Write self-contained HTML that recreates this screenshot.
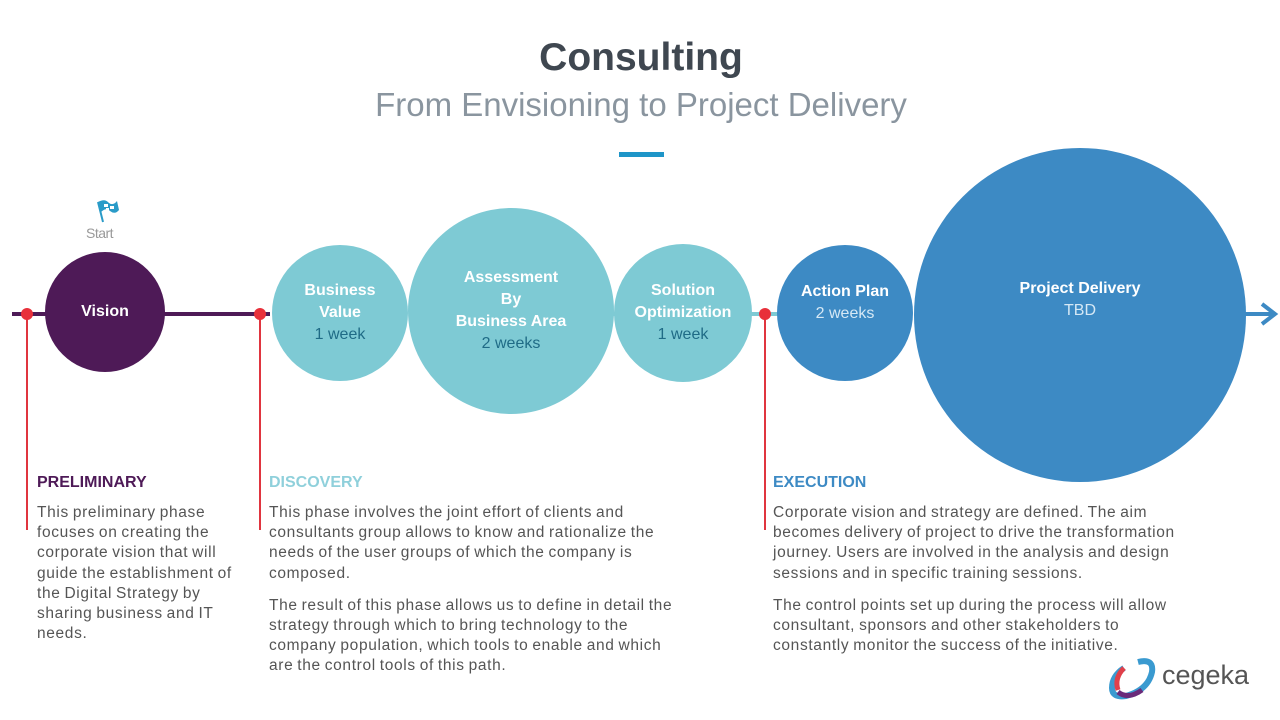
<!DOCTYPE html>
<html><head><meta charset="utf-8"><style>
body{margin:0;width:1280px;height:720px;background:#fff;position:relative;overflow:hidden;font-family:"Liberation Sans",sans-serif}
.a{position:absolute}
.c{position:absolute;border-radius:50%;display:flex;flex-direction:column;align-items:center;justify-content:center;text-align:center;color:#fff;font-weight:bold;font-size:16px;line-height:22px}
.c span{font-weight:normal}
.h{position:absolute;font-weight:bold;font-size:16px;top:474px}
.t{position:absolute;font-size:15.5px;line-height:20.2px;color:#555;top:503px;letter-spacing:0.65px;word-spacing:-1px;white-space:nowrap}
.t p{margin:0 0 12px}
</style></head><body>
<div class="a" style="left:0;top:36px;width:1282px;text-align:center;font-size:39px;font-weight:bold;color:#3f4750">Consulting</div>
<div class="a" style="left:0;top:86px;width:1282px;text-align:center;font-size:33px;color:#8a959f">From Envisioning to Project Delivery</div>
<div class="a" style="left:619px;top:152px;width:45px;height:5px;background:#1e95c8"></div>
<svg class="a" style="left:0;top:0" width="1280" height="720">
<line x1="12" y1="314" x2="270" y2="314" stroke="#4e1a57" stroke-width="4"/>
<line x1="600" y1="314" x2="800" y2="314" stroke="#7ecad4" stroke-width="4"/>
<line x1="1200" y1="314" x2="1274" y2="314" stroke="#3d8ac4" stroke-width="4"/>
<polyline points="1262,304 1275,314 1262,324" fill="none" stroke="#3d8ac4" stroke-width="4"/>
<g stroke="#e0353f" stroke-width="2"><line x1="27" y1="314" x2="27" y2="530"/><line x1="260" y1="314" x2="260" y2="530"/><line x1="765" y1="314" x2="765" y2="530"/></g>
<g fill="#e8303a"><circle cx="27" cy="314" r="6"/><circle cx="260" cy="314" r="6"/><circle cx="765" cy="314" r="6"/></g>
<g transform="translate(96,198)"><line x1="2" y1="4" x2="7" y2="24" stroke="#2a9bc8" stroke-width="2"/><path d="M2 4 Q9 0 13 5 Q17 8 21 3 L23 12 Q19 17 14 13 Q10 9 5 14Z" fill="#2a9bc8"/><path d="M8 6h4v3h-4zM14 8h4v3h-4zM10 10h3v3h-3z" fill="#fff"/></g>
</svg>
<div class="a" style="left:86px;top:225px;font-size:14px;color:#999;letter-spacing:-0.5px">Start</div>
<div class="c" style="left:45px;top:252px;width:120px;height:120px;background:#4e1a57">Vision</div>
<div class="c" style="left:272px;top:245px;width:136px;height:136px;background:#7ecad4">Business<br>Value<span style="color:#1f6b86">1 week</span></div>
<div class="c" style="left:408px;top:208px;width:206px;height:206px;background:#7ecad4">Assessment<br>By<br>Business Area<span style="color:#1f6b86">2 weeks</span></div>
<div class="c" style="left:614px;top:244px;width:138px;height:138px;background:#7ecad4">Solution<br>Optimization<span style="color:#1f6b86">1 week</span></div>
<div class="c" style="left:777px;top:245px;width:136px;height:136px;background:#3d8ac4;padding-bottom:20px;box-sizing:border-box">Action Plan<span style="color:#d5e8f5">2 weeks</span></div>
<div class="c" style="left:914px;top:148px;width:332px;height:334px;background:#3d8ac4;padding-bottom:30px;box-sizing:border-box">Project Delivery<span style="color:#d5e8f5">TBD</span></div>
<div class="h" style="left:37px;color:#4e1a57">PRELIMINARY</div>
<div class="h" style="left:269px;color:#8fd0db">DISCOVERY</div>
<div class="h" style="left:773px;color:#3d8ac4">EXECUTION</div>
<div class="t" style="left:37px">This preliminary phase<br>focuses on creating the<br>corporate vision that will<br>guide the establishment of<br>the Digital Strategy by<br>sharing business and IT<br>needs.</div>
<div class="t" style="left:269px"><p>This phase involves the joint effort of clients and<br>consultants group allows to know and rationalize the<br>needs of the user groups of which the company is<br>composed.</p><p>The result of this phase allows us to define in detail the<br>strategy through which to bring technology to the<br>company population, which tools to enable and which<br>are the control tools of this path.</p></div>
<div class="t" style="left:773px"><p>Corporate vision and strategy are defined. The aim<br>becomes delivery of project to drive the transformation<br>journey. Users are involved in the analysis and design<br>sessions and in specific training sessions.</p><p>The control points set up during the process will allow<br>consultant, sponsors and other stakeholders to<br>constantly monitor the success of the initiative.</p></div>
<svg class="a" style="left:1108px;top:656px" width="50" height="46"><path d="M30 6 Q46 2 44 16 Q40 34 18 40 Q4 42 4 32 Q4 20 16 12" fill="none" stroke="#3a9ad0" stroke-width="6"/><path d="M16 12 Q6 22 10 34" fill="none" stroke="#e0404a" stroke-width="5"/><path d="M10 36 Q20 44 34 34" fill="none" stroke="#6a2a7a" stroke-width="5"/></svg>
<div class="a" style="left:1162px;top:660px;font-size:27px;color:#555">cegeka</div>
</body></html>
